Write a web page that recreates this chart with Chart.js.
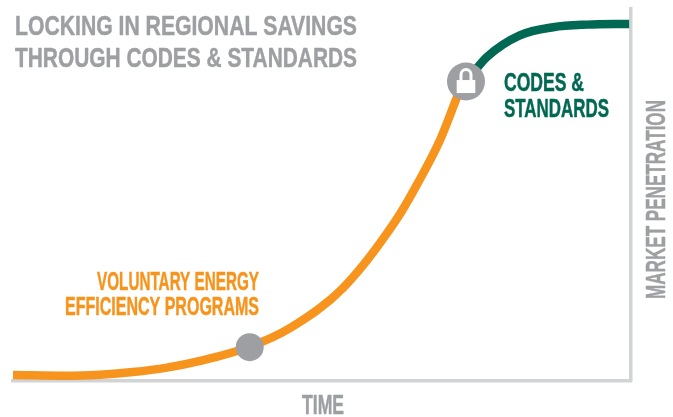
<!DOCTYPE html>
<html><head><meta charset="utf-8">
<script src="https://cdn.jsdelivr.net/npm/chart.js@4"></script>
<style>html,body{margin:0;padding:0;background:#fff}canvas{display:block}</style>
</head><body><canvas id="c" width="673" height="417"></canvas>
<script>
const programTime = [0, 8.7, 14.1, 19.4, 24.9, 30.3, 38.3, 44.8, 53.4, 62.0, 65.5, 69.1, 71.8, 73.1];
const programPenetration = [1.6, 1.4, 1.7, 2.4, 3.6, 5.4, 9.2, 14.2, 25.0, 43.3, 53.2, 64.8, 76.1, 81.5];
const codesTime = [73.3, 76.7, 82.0, 87.4, 92.9, 99.7];
const codesPenetration = [80.4, 87.1, 92.9, 95.1, 95.8, 96.0];
const markerTime = [38.3, 73.3];
const markerPenetration = [9.1, 80.5];
const markerSizes = [14, 19];
const titleLines = ['LOCKING IN REGIONAL SAVINGS', 'THROUGH CODES & STANDARDS'];
const programLabel = ['VOLUNTARY ENERGY', 'EFFICIENCY PROGRAMS'];
const codesLabel = ['CODES &', 'STANDARDS'];
const xAxisLabel = 'TIME';
const yAxisLabel = 'MARKET PENETRATION';

const GREY = '#9d9fa2', ORANGE = '#f7941e', GREEN = '#006853', AXIS = '#d1d3d4';
const pts = (xs, ys) => xs.map((x, i) => ({x, y: ys[i]}));

// Let the plot area fill the layout padding exactly, without room reserved for thick lines.
Chart.registry.getController('line').prototype.getMaxOverflow = () => 0;

function fitText(ctx, text, x, y, width, size, color, rot) {
  ctx.save();
  ctx.font = 'bold ' + size + 'px "Liberation Sans Narrow","Liberation Sans",sans-serif';
  ctx.fillStyle = color;
  ctx.strokeStyle = color;
  ctx.lineWidth = 0.5;
  ctx.lineJoin = 'round';
  ctx.textAlign = 'left';
  ctx.textBaseline = 'alphabetic';
  ctx.translate(x, y);
  if (rot) ctx.rotate(rot);
  ctx.scale(width / ctx.measureText(text).width, 1);
  ctx.fillText(text, 0, 0);
  ctx.strokeText(text, 0, 0);
  ctx.restore();
}

const annotations = {
  id: 'annotations',
  afterDatasetsDraw(chart) {
    const ctx = chart.ctx;
    fitText(ctx, titleLines[0], 15, 35, 342, 28, GREY);
    fitText(ctx, titleLines[1], 15, 67, 342, 28, GREY);
    fitText(ctx, codesLabel[0], 504, 91, 80, 26, GREEN);
    fitText(ctx, codesLabel[1], 504, 117, 105, 26, GREEN);
    fitText(ctx, programLabel[0], 97, 290, 162, 26, ORANGE);
    fitText(ctx, programLabel[1], 65, 315, 194, 26, ORANGE);
    fitText(ctx, xAxisLabel, 302, 414, 42, 27, GREY);
    fitText(ctx, yAxisLabel, 665, 299, 199, 27, GREY, -Math.PI / 2);

    // padlock glyph on the second marker
    const cx = chart.scales.x.getPixelForValue(markerTime[1]);
    const cy = chart.scales.y.getPixelForValue(markerPenetration[1]);
    ctx.save();
    ctx.fillStyle = '#fff';
    ctx.fillRect(cx - 9.3, cy - 1.5, 18.6, 13);
    ctx.strokeStyle = '#fff';
    ctx.lineWidth = 3;
    ctx.beginPath();
    ctx.moveTo(cx - 5, cy - 1.5);
    ctx.lineTo(cx - 5, cy - 7);
    ctx.arc(cx, cy - 7, 5, Math.PI, 0);
    ctx.lineTo(cx + 5, cy - 1.5);
    ctx.stroke();
    ctx.restore();
  }
};

new Chart(document.getElementById('c'), {
  type: 'line',
  data: {
    datasets: [
      {data: pts(markerTime, markerPenetration), showLine: false, backgroundColor: GREY, borderWidth: 0,
       pointRadius: markerSizes, pointBackgroundColor: GREY, pointBorderWidth: 0, clip: false},
      {data: pts(programTime, programPenetration), borderColor: ORANGE, borderWidth: 8.5, pointRadius: 0,
       cubicInterpolationMode: 'monotone', fill: false, clip: false},
      {data: pts(codesTime, codesPenetration), borderColor: GREEN, borderWidth: 8.5, pointRadius: 0,
       cubicInterpolationMode: 'monotone', fill: false, clip: false}
    ]
  },
  options: {
    responsive: false,
    animation: false,
    events: [],
    layout: {padding: {left: 13, right: 42, top: 9, bottom: 36}},
    plugins: {legend: {display: false}, tooltip: {enabled: false}, title: {display: false}},
    scales: {
      x: {type: 'linear', min: 0, max: 100,
          grid: {display: false, drawTicks: false},
          border: {display: true, color: AXIS, width: 3.5},
          ticks: {display: false}},
      y: {type: 'linear', position: 'right', min: 0, max: 100,
          grid: {display: false, drawTicks: false},
          border: {display: true, color: AXIS, width: 3.5},
          ticks: {display: false}}
    }
  },
  plugins: [annotations]
});
</script>
</body></html>
